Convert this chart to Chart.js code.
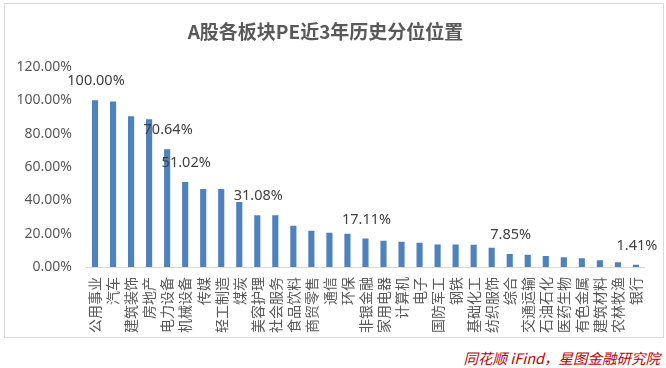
<!DOCTYPE html>
<html>
<head>
<meta charset="utf-8">
<script src="https://cdn.jsdelivr.net/npm/chart.js@4.4.0/dist/chart.umd.min.js"></script>
<style>
  body { margin: 0; background: #fff; width: 666px; height: 368px; position: relative; overflow: hidden; }
  #box { position: absolute; left: 4px; top: 3px; width: 658px; height: 333px; border: 1px solid #d9d9d9; }
  #src { position: absolute; right: 6px; top: 347px; color: #c00000; font: italic 14.5px "Noto Sans CJK SC", sans-serif; }
</style>
</head>
<body>
<div id="box"><canvas id="myChart"></canvas></div>
<div id="src">同花顺 iFind，星图金融研究院</div>
<script>
  //categories and values (percent)
  var sectors = ["公用事业","汽车","建筑装饰","房地产","电力设备","机械设备","传媒","轻工制造","煤炭","美容护理",
    "社会服务","食品饮料","商贸零售","通信","环保","非银金融","家用电器","计算机","电子","国防军工",
    "钢铁","基础化工","纺织服饰","综合","交通运输","石油石化","医药生物","有色金属","建筑材料","农林牧渔","银行"];
  var pePercentile = [100.00, 99.2, 90.3, 88.5, 70.64, 51.02, 46.7, 46.7, 39.0, 31.08,
    31.0, 24.8, 21.8, 20.6, 20.0, 17.11, 15.8, 15.2, 14.5, 13.5,
    13.5, 13.4, 11.5, 7.85, 7.4, 6.6, 5.9, 5.2, 4.0, 2.8, 1.41];
  //only these bars get a value label
  var labelIdx = [0, 4, 5, 9, 15, 23, 30];
  var yTicks = [0, 20, 40, 60, 80, 100, 120];

  var labelPlugin = {
    id: 'someLabels',
    afterDatasetsDraw: function(chart) {
      var ctx = chart.ctx;
      var meta = chart.getDatasetMeta(0);
      ctx.save();
      ctx.font = '14.5px "Noto Sans", sans-serif';
      ctx.fillStyle = '#404040';
      ctx.textAlign = 'center';
      ctx.textBaseline = 'middle';
      labelIdx.forEach(function(i){
        var bar = meta.data[i];
        ctx.fillText(pePercentile[i].toFixed(2) + '%', bar.x + 1, bar.y - 19);
      });
      ctx.restore();
    }
  };

  var ctx = document.getElementById("myChart");
  var myChart = new Chart(ctx, {
    type: 'bar',
    data: {
      labels: sectors,
      datasets: [{
        data: pePercentile,
        backgroundColor: '#4f81bd',
        barPercentage: 0.34,
        categoryPercentage: 1.0
      }]
    },
    options: {
      responsive: true,
      maintainAspectRatio: false,
      animation: false,
      layout: { padding: { left: 0, right: 17, top: 2, bottom: 0 } },
      plugins: {
        legend: { display: false },
        tooltip: { enabled: false },
        title: {
          display: true,
          text: 'A股各板块PE近3年历史分位位置',
          color: '#595959',
          font: { size: 19, weight: 'bold', family: '"Noto Sans CJK SC", sans-serif' },
          padding: { top: 14, bottom: 24 }
        }
      },
      scales: {
        x: {
          grid: { display: false, drawTicks: false },
          border: { display: true, color: '#d9d9d9' },
          afterFit: function(axis) { axis.height = 70; },
          ticks: {
            color: '#595959',
            autoSkip: false,
            maxRotation: 90,
            minRotation: 90,
            padding: 10,
            font: { size: 14, family: '"Noto Sans CJK SC", sans-serif' }
          }
        },
        y: {
          min: 0,
          max: 120,
          afterBuildTicks: function(axis) {
            axis.ticks = yTicks.map(function(v){ return { value: v }; });
          },
          afterFit: function(axis) { axis.width = 81; },
          grid: { display: false, drawTicks: false },
          border: { display: false },
          ticks: {
            color: '#595959',
            padding: 14,
            font: { size: 14, family: '"Noto Sans", sans-serif' },
            callback: function(v) { return v.toFixed(2) + '%'; }
          }
        }
      }
    },
    plugins: [labelPlugin]
  });
</script>
</body>
</html>
